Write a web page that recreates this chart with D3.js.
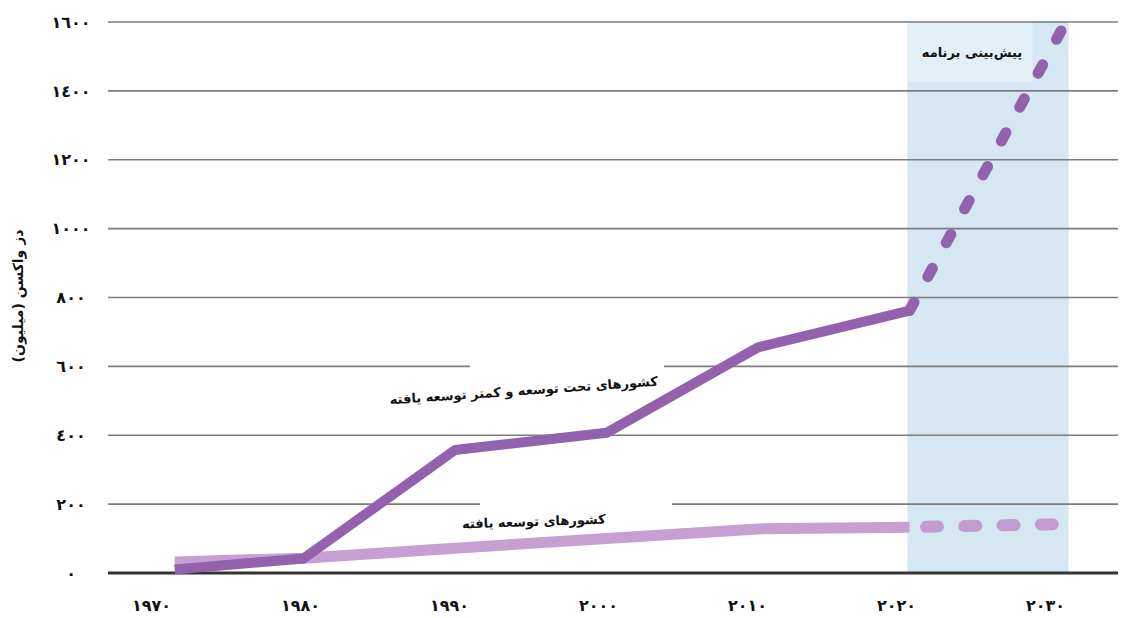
<!DOCTYPE html>
<html><head><meta charset="utf-8">
<script src="https://cdn.jsdelivr.net/npm/d3@7"></script>
<style>
body{margin:0;background:#fff;}
svg text{font-family:"DejaVu Sans","Noto Sans",sans-serif;font-weight:bold;fill:#111;}
</style></head>
<body><svg id="c" width="1128" height="618"></svg>
<script>
// ---- data ----
const years = [1971.5, 1980, 1990, 2000, 2010, 2020];
const developing = [10, 42, 357, 407, 655, 762];
const developed = [32, 43, 72, 100, 128, 133];
const forecastYears = [2020, 2030];
const developingForecast = [762, 1574];
const developedForecast = [133, 142];
const yTicks = [0, 200, 400, 600, 800, 1000, 1200, 1400, 1600];
const yTickLabels = ["٠", "٢٠٠", "٤٠٠", "٦٠٠", "٨٠٠", "١٠٠٠", "١٢٠٠", "١٤٠٠", "١٦٠٠"];
const xTicks = [1970, 1980, 1990, 2000, 2010, 2020, 2030];
const xTickLabels = ["١٩٧٠", "١٩٨٠", "١٩٩٠", "٢٠٠٠", "٢٠١٠", "٢٠٢٠", "٢٠٣٠"];
const yTitle = "دز واکسن (میلیون)";
const labelDeveloping = "کشورهای تحت توسعه و کمتر توسعه یافته";
const labelDeveloped = "کشورهای توسعه یافته";
const labelForecast = "پیش‌بینی برنامه";
const forecastRange = [2020, 2030.5];

// ---- scales ----
const svg = d3.select("#c");
const x = d3.scaleLinear().domain([1970, 2030]).range([152, 1061]);
const xLab = d3.scaleLinear().domain([1970, 2030]).range([151, 1045]);
const y = d3.scaleLinear().domain([0, 1600]).range([573, 22]);
const gridX0 = 108, gridX1 = 1118;

// forecast shading
svg.append("rect")
  .attr("x", x(forecastRange[0]) - 2).attr("y", y(1600))
  .attr("width", x(forecastRange[1]) - x(forecastRange[0]) + 2)
  .attr("height", y(0) - y(1600))
  .attr("fill", "#d5e7f2");

// forecast label box
svg.append("rect").attr("x", x(2020) - 2).attr("y", y(1600)).attr("width", 125).attr("height", 60)
  .attr("fill", "#ffffff").attr("opacity", 0.35);

// gridlines
svg.append("g").selectAll("line").data(yTicks.filter(d => d > 0)).join("line")
  .attr("x1", gridX0).attr("x2", gridX1)
  .attr("y1", d => y(d)).attr("y2", d => y(d))
  .attr("stroke", "#7d7d7d").attr("stroke-width", 1.6);

// label background boxes
svg.append("rect").attr("x", 470).attr("y", 358).attr("width", 194).attr("height", 40).attr("fill", "#fff");
svg.append("rect").attr("x", 480).attr("y", 496).attr("width", 192).attr("height", 36).attr("fill", "#fff");

// baseline
svg.append("line").attr("x1", gridX0).attr("x2", gridX1)
  .attr("y1", y(0)).attr("y2", y(0))
  .attr("stroke", "#333").attr("stroke-width", 3);

// lines
const line = d3.line().x(d => x(d[0])).y(d => y(d[1]));
const zip = (a, b) => a.map((v, i) => [v, b[i]]);

svg.append("path").datum(zip(years, developed)).attr("d", line)
  .attr("fill", "none").attr("stroke", "#c79fd3").attr("stroke-width", 11)
  .attr("stroke-linejoin", "round");
svg.append("path").datum(zip(forecastYears, developedForecast)).attr("d", line)
  .attr("fill", "none").attr("stroke", "#c39ccf").attr("stroke-width", 12)
  .attr("stroke-linecap", "round").attr("stroke-dasharray", "12,26.3")
  .attr("stroke-dashoffset", -16.5);

svg.append("path").datum(zip(years, developing)).attr("d", line)
  .attr("fill", "none").attr("stroke", "#9461ad").attr("stroke-width", 10)
  .attr("stroke-linejoin", "round");
const dashed = svg.append("path").datum(zip(forecastYears, developingForecast)).attr("d", line)
  .attr("fill", "none").attr("stroke", "#9461ad").attr("stroke-width", 11)
  .attr("stroke-linecap", "round");
{
  const L = dashed.node().getTotalLength();
  const n = 9, d = 9.5, g = (L - n * d) / (n - 1);
  dashed.attr("stroke-dasharray", d + "," + g);
}

// y axis labels
const yAxis = d3.axisLeft(y).tickValues(yTicks)
  .tickFormat((d, i) => yTickLabels[i]).tickSize(0).tickPadding(0);
const gy = svg.append("g").attr("transform", "translate(71,0)").call(yAxis);
gy.select(".domain").remove();
gy.selectAll("text").attr("text-anchor", "middle").attr("font-size", 16)
  .attr("font-family", "DejaVu Sans").attr("font-weight", "bold").attr("fill", "#111");

// x axis labels
const xAxis = d3.axisBottom(xLab).tickValues(xTicks)
  .tickFormat((d, i) => xTickLabels[i]).tickSize(0).tickPadding(0);
const gx = svg.append("g").attr("transform", "translate(0,600)").call(xAxis);
gx.select(".domain").remove();
gx.selectAll("text").attr("font-size", 16)
  .attr("font-family", "DejaVu Sans").attr("font-weight", "bold").attr("fill", "#111");

// y title
svg.append("text").attr("transform", "translate(23,296) rotate(-90)")
  .attr("text-anchor", "middle").attr("font-size", 14).text(yTitle);

// series labels
svg.append("text").attr("transform", "translate(524,395) rotate(-4)")
  .attr("text-anchor", "middle").attr("font-size", 13).text(labelDeveloping);
svg.append("text").attr("transform", "translate(534,526) rotate(-2)")
  .attr("text-anchor", "middle").attr("font-size", 13).text(labelDeveloped);
svg.append("text").attr("x", 972).attr("y", 57)
  .attr("text-anchor", "middle").attr("font-size", 13).text(labelForecast);
</script></body></html>
